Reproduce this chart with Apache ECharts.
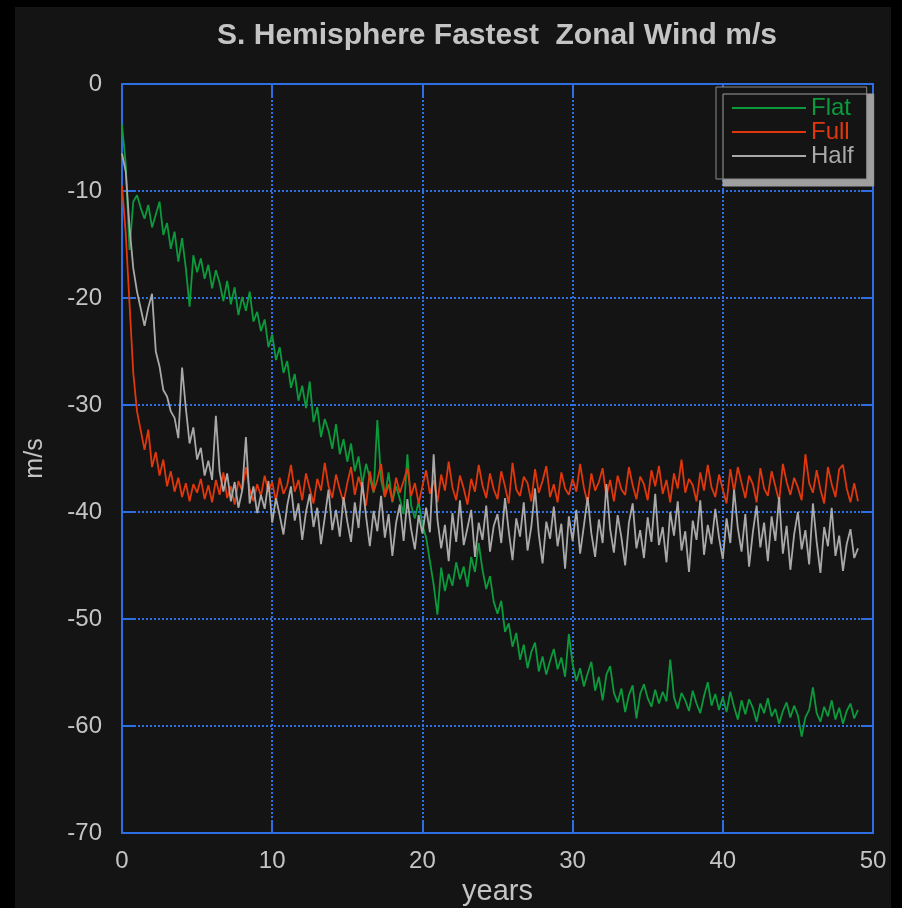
<!DOCTYPE html>
<html>
<head>
<meta charset="utf-8">
<script src="https://cdn.jsdelivr.net/npm/echarts@6/dist/echarts.min.js"></script>
<style>
  html, body { margin: 0; padding: 0; background: #000; }
  #panel { position: absolute; left: 15px; top: 7px; width: 876px; height: 901px; background: #141414; }
  #chart { position: absolute; left: 0; top: 0; width: 902px; height: 908px; }
</style>
</head>
<body>
<div id="panel"></div>
<div id="chart"></div>
<script>
// Sampling interval of the model output, in years
const step = 0.25;

// Fastest zonal wind (m/s), southern hemisphere, one value per sample
const flat = [
  -3.8, -7.5, -15.5, -11.0, -10.4, -11.6, -12.6, -11.3, -13.4, -12.2, -11.0, -14.1, -13.0, -15.4, -13.8, -16.6, -14.4, -17.2, -20.8, -16.0,
  -17.6, -16.3, -18.2, -16.9, -19.1, -17.4, -18.6, -20.3, -18.4, -20.6, -19.0, -21.6, -19.9, -21.2, -19.4, -22.2, -21.3, -23.1, -22.0, -24.6,
  -23.4, -25.8, -24.6, -27.0, -25.9, -28.4, -27.1, -29.6, -28.2, -30.3, -27.8, -31.6, -30.2, -33.0, -31.3, -32.4, -34.1, -31.8, -34.6, -33.2,
  -35.3, -33.6, -36.2, -34.8, -37.4, -35.5, -36.8, -38.2, -31.4, -37.0, -38.6, -36.3, -39.1, -37.6, -38.8, -40.2, -34.6, -39.4, -40.6, -39.0,
  -41.2, -42.4, -44.6, -46.8, -49.6, -45.2, -47.4, -45.8, -46.9, -44.7, -46.3, -45.1, -47.0, -44.2, -45.6, -42.9, -45.4, -47.2, -46.0, -48.4,
  -49.5, -48.3, -51.2, -50.4, -52.6, -51.3, -53.8, -52.4, -54.6, -53.1, -52.2, -54.9, -53.5, -55.2, -53.9, -52.8, -54.7, -53.6, -55.4, -51.4,
  -54.2, -55.8, -54.6, -56.3, -55.1, -54.0, -56.7, -55.4, -57.6, -55.2, -54.4, -56.9, -57.8, -56.5, -58.7, -57.1, -56.2, -59.3, -57.0, -56.1,
  -57.4, -58.2, -56.6, -57.9, -56.8, -57.7, -53.8, -57.3, -58.4, -56.9, -57.6, -58.6, -56.7, -57.9, -58.8, -57.2, -55.9, -58.1, -57.0, -58.5,
  -57.3, -58.7, -56.8, -58.2, -59.4, -57.6, -58.9, -57.5, -58.3, -59.6, -57.9, -58.8, -57.4, -59.1, -58.4, -59.8, -58.6, -57.8, -59.2, -58.1,
  -59.0, -61.0, -59.2, -58.5, -56.4, -58.8, -59.6, -58.2, -59.1, -57.6, -59.4, -58.3, -59.8, -58.6, -57.9, -59.3, -58.5
];
const full = [
  -9.5, -14.0, -20.5, -27.0, -30.6, -32.4, -34.2, -32.3, -35.8, -34.4, -36.6, -35.1, -37.6, -36.2, -38.1, -36.8, -38.6, -37.3, -39.0, -37.4,
  -38.2, -36.9, -38.8, -37.5, -39.1, -37.0, -38.4, -36.3, -38.7, -37.6, -39.3, -37.1, -38.0, -35.8, -37.9, -39.0, -37.4, -38.5, -36.6, -38.1,
  -37.2, -39.0, -36.8, -38.3, -37.5, -35.6, -38.1, -37.0, -38.9, -36.4, -37.8, -39.2, -36.9, -38.0, -35.4, -37.6, -38.7, -36.5, -37.9, -39.1,
  -37.3, -35.8, -38.4, -36.7, -37.9, -39.4, -36.2, -38.1, -37.0, -35.5, -38.6, -37.4, -39.0, -36.8, -38.2, -37.1, -35.9, -38.5, -37.3, -39.2,
  -37.6, -36.1, -38.3, -37.0, -39.1, -36.5, -38.0, -35.3, -37.7, -38.9, -36.6, -37.8, -39.3, -36.9, -38.1, -35.6, -37.5, -38.7, -36.4, -37.9,
  -38.8, -36.2, -37.6, -39.2, -35.4, -37.9, -38.5, -36.7, -37.3, -39.0, -36.0, -38.2, -37.1, -35.7, -38.6, -37.4, -39.1, -36.3, -37.8, -38.4,
  -36.9, -38.1, -35.5, -37.7, -39.2, -36.4, -38.0, -37.2, -35.9, -38.6, -37.0, -39.0, -36.6, -37.9, -38.4, -35.8, -37.5, -38.8, -36.7, -37.4,
  -38.9, -36.1, -37.6, -35.7, -38.3, -37.0, -39.1, -36.4, -37.8, -35.1, -38.2, -36.9, -37.5, -39.0, -36.3, -38.0, -35.6, -37.7, -38.6, -36.5,
  -37.9, -39.2, -36.0, -38.1, -35.8, -37.3, -38.7, -36.6, -37.4, -39.1, -35.9, -37.8, -38.5, -36.2, -37.6, -39.0, -35.5, -37.2, -38.4, -36.8,
  -37.7, -38.9, -34.6, -37.3, -38.2, -36.1, -37.9, -39.2, -35.8, -37.4, -38.6, -36.0, -35.6, -37.8, -39.1, -37.3, -39.0
];
const half = [
  -6.5, -8.2, -13.4, -17.2, -19.4, -21.0, -22.6, -20.9, -19.6, -25.0, -26.4, -28.6, -29.2, -30.6, -31.2, -33.1, -26.5, -30.3, -33.6, -32.1,
  -35.1, -34.0, -36.6, -35.2, -37.0, -31.0, -36.2, -38.1, -36.4, -39.0, -37.2, -39.6, -38.0, -33.0, -39.2, -37.6, -40.1, -38.4, -39.7, -37.1,
  -41.0, -38.7, -40.3, -42.1, -39.4, -37.6, -40.8, -39.2, -42.6, -40.0, -38.3, -41.4, -39.6, -43.0, -40.5, -37.9, -41.7, -39.8, -42.3, -38.6,
  -40.9, -42.8, -39.1, -41.5, -37.2, -40.4, -43.2, -39.9, -41.8, -38.5, -42.4, -40.2, -44.1, -41.0, -39.3, -42.7, -38.8, -41.6, -43.5, -40.3,
  -42.0, -39.6, -41.9, -34.6, -40.7, -43.4, -41.2, -44.6, -40.1, -42.8, -38.9, -43.1, -41.5, -39.8, -44.2, -41.0, -42.6, -39.4, -43.7, -41.3,
  -40.2, -42.9, -38.7, -41.8, -44.5, -40.6, -42.3, -39.1, -43.6, -41.4, -37.8, -42.1, -44.8, -40.9, -42.5, -39.5, -43.2, -41.1, -45.3, -40.4,
  -42.7, -39.8, -43.9, -41.3, -38.6, -42.0, -44.2, -40.7, -42.9, -37.4, -41.6, -43.8, -40.3, -42.4, -45.0, -41.0, -39.2, -43.4, -41.7, -44.3,
  -40.5, -42.8, -38.3, -43.1, -41.4, -44.7, -40.0, -42.2, -39.0, -43.6, -41.8, -45.6, -40.8, -42.6, -38.9, -44.0, -41.2, -43.0, -39.7, -42.4,
  -44.4, -40.6, -42.9, -37.9, -41.5, -43.7, -40.2, -45.1, -41.9, -39.4, -43.3, -41.0, -44.6, -40.4, -42.7, -38.6, -43.9, -41.3, -45.4, -42.1,
  -40.0, -43.5, -41.7, -44.9, -39.2, -42.8, -45.7, -41.4, -43.2, -39.6, -44.1, -42.2, -45.5, -43.0, -41.6, -44.3, -43.4
];

const seriesNames = ['Flat', 'Full', 'Half'];
const seriesColors = ['#0b9a3c', '#e0380c', '#a9a9a9'];
const xTicks = [0, 10, 20, 30, 40, 50];
const yTicks = [0, -10, -20, -30, -40, -50, -60, -70];

const titleText = 'S. Hemisphere Fastest  Zonal Wind m/s';
const xName = 'years';
const yName = 'm/s';

const frameBlue = '#2d6fe3';
const textGray = '#c4c4c4';
const font = 'Liberation Sans, Arial, Helvetica, sans-serif';

function pairs(values) {
  return values.map((v, i) => [i * step, v]);
}

// Fresh style objects for every axis so nothing is shared between them
function frameLine() { return { show: true, onZero: false, lineStyle: { color: frameBlue, width: 2 } }; }
function frameTicks() { return { show: true, inside: true, length: 12, lineStyle: { color: frameBlue, width: 2 } }; }
function gridDots() { return { show: true, lineStyle: { color: frameBlue, width: 2, type: [2, 2] } }; }

const chart = echarts.init(document.getElementById('chart'), null, { renderer: 'canvas' });

chart.setOption({
  backgroundColor: 'transparent',
  animation: false,
  graphic: [{
    type: 'text',
    x: 497,
    y: 36,
    style: {
      text: titleText,
      fill: textGray,
      font: 'bold 30px ' + font,
      align: 'center',
      verticalAlign: 'middle'
    }
  }],
  grid: { left: 122, right: 29, top: 84, bottom: 75, containLabel: false, outerBoundsMode: 'none' },
  legend: {
    orient: 'vertical',
    left: 716,
    top: 87,
    padding: [9, 13, 11, 16],
    itemGap: 0,
    itemWidth: 74,
    itemHeight: 2,
    icon: 'rect',
    backgroundColor: '#141414',
    borderColor: '#8a8a8a',
    borderWidth: 1,
    shadowColor: '#9f9f9f',
    shadowBlur: 0,
    shadowOffsetX: 7,
    shadowOffsetY: 7,
    textStyle: { fontSize: 24, lineHeight: 23, fontFamily: font, padding: [0, 0, 0, 0] },
    data: seriesNames.map((n, i) => ({ name: n, textStyle: { color: seriesColors[i] } }))
  },
  xAxis: [{
    type: 'value', min: xTicks[0], max: xTicks[xTicks.length - 1], interval: 10,
    name: xName, nameLocation: 'middle', nameGap: 43,
    nameTextStyle: { color: textGray, fontSize: 29, fontFamily: font },
    axisLine: frameLine(), axisTick: frameTicks(), splitLine: gridDots(),
    axisLabel: { color: textGray, fontSize: 24, fontFamily: font, margin: 16 }
  }, {
    type: 'value', position: 'top', min: xTicks[0], max: xTicks[xTicks.length - 1], interval: 10,
    axisLine: frameLine(), axisTick: frameTicks(), splitLine: { show: false }, axisLabel: { show: false }
  }],
  yAxis: [{
    type: 'value', min: yTicks[yTicks.length - 1], max: yTicks[0], interval: 10,
    name: yName, nameLocation: 'middle', nameGap: 74, nameRotate: 90,
    nameTextStyle: { color: textGray, fontSize: 25, fontFamily: font },
    axisLine: frameLine(), axisTick: frameTicks(), splitLine: gridDots(),
    axisLabel: { color: textGray, fontSize: 24, fontFamily: font, margin: 20 }
  }, {
    type: 'value', position: 'right', min: yTicks[yTicks.length - 1], max: yTicks[0], interval: 10,
    axisLine: frameLine(), axisTick: frameTicks(), splitLine: { show: false }, axisLabel: { show: false }
  }],
  series: [flat, full, half].map((values, i) => ({
    name: seriesNames[i],
    type: 'line',
    xAxisIndex: 0,
    yAxisIndex: 0,
    data: pairs(values),
    symbol: 'none',
    color: seriesColors[i],
    lineStyle: { color: seriesColors[i], width: 1.8 },
    z: 3 + i
  }))
});
</script>
</body>
</html>
